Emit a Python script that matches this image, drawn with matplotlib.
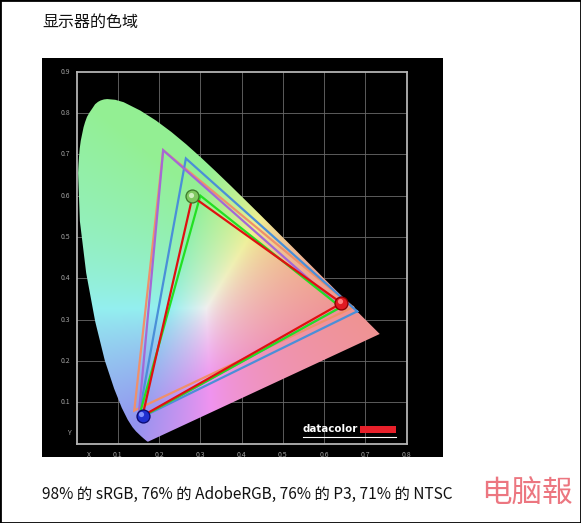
import matplotlib
matplotlib.use('Agg')
import matplotlib.pyplot as plt
import numpy as np
from matplotlib.patches import Polygon, Rectangle

plt.rcParams['font.family'] = ['Noto Sans CJK SC', 'DejaVu Sans']

# CIE 1931 spectral locus (x, y), read along the horseshoe edge
locus_x = [0.1741, 0.1733, 0.1714, 0.1644, 0.1566, 0.1440, 0.1355, 0.1241, 0.1096,
           0.0913, 0.0687, 0.0454, 0.0235, 0.0082, 0.0039, 0.0049, 0.0062, 0.0078,
           0.0103, 0.0139, 0.0171, 0.0208, 0.0254, 0.0310, 0.0389, 0.0450, 0.0520,
           0.0585, 0.0665, 0.0743, 0.0940, 0.1142, 0.1547, 0.1929, 0.2296, 0.2658,
           0.3016, 0.3373, 0.3731, 0.4087, 0.4441, 0.4788, 0.5125, 0.5448, 0.5752,
           0.6029, 0.6270, 0.6658, 0.6915, 0.7190, 0.7347]
locus_y = [0.0050, 0.0048, 0.0051, 0.0109, 0.0177, 0.0297, 0.0399, 0.0578, 0.0868,
           0.1327, 0.2007, 0.2950, 0.4127, 0.5384, 0.6548, 0.6750, 0.6954, 0.7141,
           0.7327, 0.7502, 0.7655, 0.7780, 0.7906, 0.8005, 0.8120, 0.8212, 0.8270,
           0.8304, 0.8329, 0.8338, 0.8320, 0.8262, 0.8059, 0.7816, 0.7543, 0.7243,
           0.6923, 0.6589, 0.6245, 0.5896, 0.5547, 0.5202, 0.4866, 0.4544, 0.4242,
           0.3965, 0.3725, 0.3340, 0.3083, 0.2809, 0.2653]

# gamut triangles: red, green, blue primaries
ntsc_x = [0.67, 0.21, 0.14]
ntsc_y = [0.33, 0.71, 0.08]
p3_x = [0.68, 0.265, 0.15]
p3_y = [0.32, 0.69, 0.06]
adobe_x = [0.64, 0.21, 0.15]
adobe_y = [0.33, 0.71, 0.06]
srgb_x = [0.64, 0.30, 0.15]
srgb_y = [0.33, 0.60, 0.06]
display_x = [0.642, 0.281, 0.160]
display_y = [0.340, 0.598, 0.067]

ticks_x = [0.1, 0.2, 0.3, 0.4, 0.5, 0.6, 0.7, 0.8]
ticks_y = [0.1, 0.2, 0.3, 0.4, 0.5, 0.6, 0.7, 0.8, 0.9]

title = '显示器的色域'
caption = '98% 的 sRGB, 76% 的 AdobeRGB, 76% 的 P3, 71% 的 NTSC'

fig = plt.figure(figsize=(5.81, 5.23), dpi=100)
fig.patch.set_facecolor('white')
W, H = 581, 523

# outer border and black panel
fig.patches.append(Rectangle((0, 0), 1, 1, transform=fig.transFigure, fill=False,
                             edgecolor='black', linewidth=2, zorder=-2))
fig.patches.append(Rectangle((42 / W, 1 - 457 / H), 401 / W, 399 / H,
                             transform=fig.transFigure, facecolor='black',
                             edgecolor='none', zorder=-1))

ax = fig.add_axes([76.5 / W, 1 - 443.6 / H, 330.2 / W, 371.9 / H])
ax.set_facecolor('black')
ax.set_xlim(0, 0.8)
ax.set_ylim(0, 0.9)

# chromaticity colour field (pastel), clipped to the locus
gx, gy = np.meshgrid(np.linspace(0.0005, 0.8, 400), np.linspace(0.0005, 0.9, 450))
X = gx / gy
Z = (1 - gx - gy) / gy
M = np.array([[3.2406, -1.5372, -0.4986], [-0.9689, 1.8758, 0.0415], [0.0557, -0.2040, 1.0570]])
rgb = np.stack([M[i, 0] * X + M[i, 1] + M[i, 2] * Z for i in range(3)], axis=-1)
rgb = np.clip(rgb, 0, None)
rgb = rgb / np.maximum(rgb.max(axis=-1, keepdims=True), 1e-9)
rgb = rgb ** 0.85
rgb = 0.58 + 0.36 * rgb
im = ax.imshow(rgb, extent=[0, 0.8, 0, 0.9], origin='lower', aspect='auto',
               interpolation='bilinear', zorder=1)
horseshoe = Polygon(np.column_stack([locus_x, locus_y]), closed=True,
                    transform=ax.transData, facecolor='none', edgecolor='none')
ax.add_patch(horseshoe)
im.set_clip_path(horseshoe)

# grid
for t in ticks_x[:-1]:
    ax.axvline(t, color='#6a6a6a', linewidth=0.6, zorder=0.5)
for t in ticks_y[:-1]:
    ax.axhline(t, color='#6a6a6a', linewidth=0.6, zorder=0.5)

def tri(xs, ys, color):
    ax.plot(xs + xs[:1], ys + ys[:1], color=color, linewidth=1.6, zorder=3,
            solid_joinstyle='miter')

tri(ntsc_x, ntsc_y, '#f0906a')
tri(p3_x, p3_y, '#4a8fd8')
tri(adobe_x, adobe_y, '#a468d6')
tri(srgb_x, srgb_y, '#22e022')
tri(display_x, display_y, '#e01010')

# glossy primary balls
ball_cols = [('#8a0000', '#e01a22', '#ff8080'),
             ('#3d7a2a', '#7fc860', '#d0f0c0'),
             ('#0a0a70', '#2030d0', '#8090ff')]
for bx, by, (dark, mid, light) in zip(display_x, display_y, ball_cols):
    ax.scatter([bx], [by], s=105, color=dark, zorder=4, linewidths=0)
    ax.scatter([bx], [by], s=70, color=mid, zorder=4, linewidths=0)
    ax.scatter([bx - 0.003], [by + 0.004], s=14, color=light, zorder=4, linewidths=0)

# frame and tick labels
for side in ['top', 'bottom', 'left', 'right']:
    ax.spines[side].set_color('#b4b4b4')
    ax.spines[side].set_linewidth(1.3)
    ax.spines[side].set_zorder(5)
ax.set_xticks([])
ax.set_yticks([])
for t in ticks_x:
    ax.text(t, -0.018, f'{t:.1f}', color='#a0a0a0', fontsize=5, ha='center', va='top')
ax.text(0.03, -0.018, 'X', color='#a0a0a0', fontsize=5, ha='center', va='top')
for t in ticks_y:
    ax.text(-0.015, t, f'{t:.1f}', color='#a0a0a0', fontsize=5, ha='right', va='center')
ax.text(-0.015, 0.025, 'Y', color='#a0a0a0', fontsize=5, ha='right', va='center')

# datacolor logo
ax.text(0.548, 0.027, 'datacolor', color='white', fontsize=7.4, fontweight='bold',
        family='DejaVu Sans', ha='left', va='baseline', zorder=6)
ax.add_patch(Rectangle((0.688, 0.026), 0.085, 0.016, facecolor='#e8202a',
                       edgecolor='none', zorder=6))
ax.plot([0.548, 0.773], [0.017, 0.017], color='white', linewidth=0.8, zorder=6)

# page text
fig.text(42 / W, 1 - 22 / H, title, fontsize=11.5, ha='left', va='center', color='#111111')
fig.text(42 / W, 1 - 494 / H, caption, fontsize=11.1, ha='left', va='center', color='#111111')
fig.text(527 / W, 1 - 494 / H, '电脑報', fontsize=22, ha='center', va='center',
         color='#ec7680')

fig.savefig('out.png', dpi=100, facecolor='white')
